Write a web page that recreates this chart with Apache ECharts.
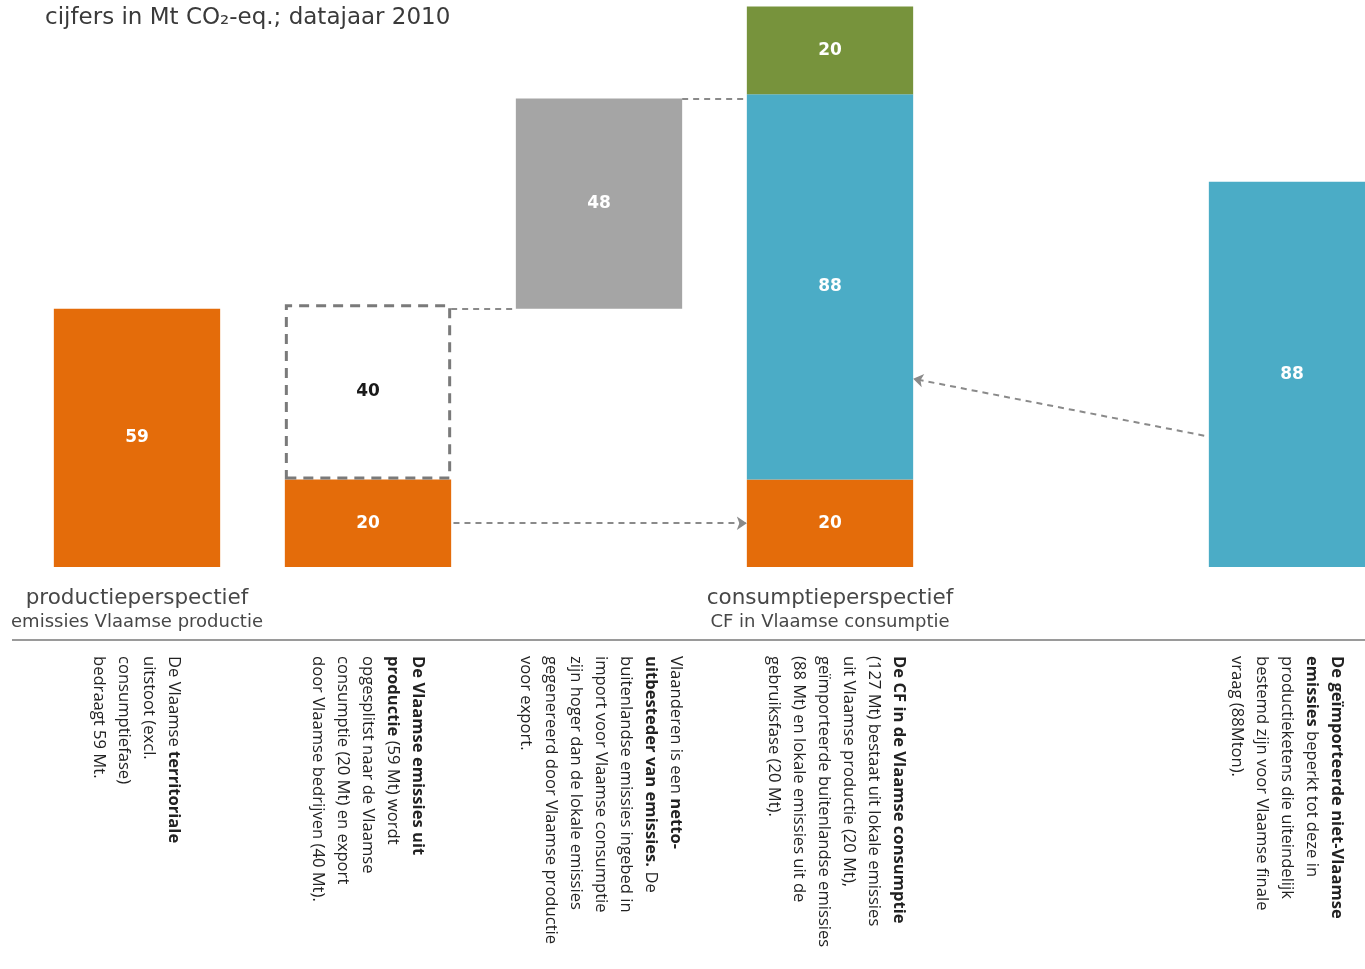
<!DOCTYPE html>
<html><head><meta charset="utf-8">
<script src="https://cdn.jsdelivr.net/npm/echarts@6/dist/echarts.min.js"></script>
<style>html,body{margin:0;padding:0;background:#fff}#c{width:1365px;height:969px}</style>
</head><body><div id="c"></div>
<script>
// ---- data ----
const categories = ['productie', 'export', 'uitbesteding', 'consumptie', 'leeg', 'import'];
const categoryTitles = ['productieperspectief', '', '', 'consumptieperspectief', '', ''];
const categorySubtitles = ['emissies Vlaamse productie', '', '', 'CF in Vlaamse consumptie', '', ''];
const offsetBase        = [null, null, 59, null, null, null];
const localProduction   = [59, 20, null, 20, null, null];
const exportEmissions   = [null, 40, null, null, null, null];
const netOutsourcing    = [null, null, 48, null, null, null];
const importedEmissions = [null, null, null, 88, null, 88];
const usePhase          = [null, null, null, 20, null, null];
const chartSubtitle = 'cijfers in Mt CO\u2082-eq.; datajaar 2010';
const description1 = ['De Vlaamse {b|territoriale}', 'uitstoot (excl.', 'consumptiefase)', 'bedraagt 59 Mt.'];
const description2 = ['{b|De Vlaamse emissies uit}', '{b|productie} (59 Mt) wordt', 'opgesplitst naar de Vlaamse', 'consumptie (20 Mt) en export', 'door Vlaamse bedrijven (40 Mt).'];
const description3 = ['Vlaanderen is een {b|netto-}', '{b|uitbesteder van emissies.} De', 'buitenlandse emissies ingebed in', 'import voor Vlaamse consumptie', 'zijn hoger dan de lokale emissies', 'gegenereerd door Vlaamse productie', 'voor export.'];
const description4 = ['{b|De CF in de Vlaamse consumptie}', '(127 Mt) bestaat uit lokale emissies', 'uit Vlaamse productie (20 Mt),', 'geïmporteerde buitenlandse emissies', '(88 Mt) en lokale emissies uit de', 'gebruiksfase (20 Mt).'];
const description5 = ['{b|De geïmporteerde niet-Vlaamse}', '{b|emissies} beperkt tot deze in', 'productieketens die uiteindelijk', 'bestemd zijn voor Vlaamse finale', 'vraag (88Mton).'];
// arrow from the import bar towards the consumption bar (annotation heights)
const importArrowLevels = [30, 43];

// ---- build ----
const HALF = 0.36; // half bar width in category units (barWidth 72%)
function edge(i, side) { return i + (side === 'left' ? -HALF : HALF); }
const outsourceTop = offsetBase[2] + netOutsourcing[2];
const plainConnectors = [
  { coords: [[edge(1, 'right'), localProduction[0]], [edge(2, 'left'), offsetBase[2]]] },
  { coords: [[edge(2, 'right'), outsourceTop], [edge(3, 'left'), outsourceTop]] }
];
const arrowConnectors = [
  { coords: [[edge(1, 'right') + 0.01, localProduction[1] / 2], [edge(3, 'left'), localProduction[3] / 2]] },
  { coords: [[edge(5, 'left') - 0.02, importArrowLevels[0]], [edge(3, 'right'), importArrowLevels[1]]] }
];

const labelStyle = { show: true, position: 'inside', formatter: '{c}', color: '#fff', fontWeight: 'bold', fontSize: 17, fontFamily: 'DejaVu Sans' };
function bar(name, data, color, extra) {
  return Object.assign({
    name, type: 'bar', stack: 'w', barWidth: '72%', data,
    itemStyle: { color }, label: labelStyle, silent: true
  }, extra || {});
}

const descriptions = [description1, description2, description3, description4, description5];
const descAnchors = [186, 430, 688, 911, 1349];
const descTexts = descriptions.map((lines, k) => ({
  type: 'text', x: descAnchors[k], y: 656, rotation: -Math.PI / 2,
  style: {
    text: lines.join('\n'),
    font: '16.6px "Open Sans"', fill: '#222', lineHeight: 25,
    textAlign: 'left', textVerticalAlign: 'top',
    rich: { b: { fontWeight: 'bold', fontFamily: 'Open Sans', fontSize: 16.6, lineHeight: 25, fill: '#222' } }
  }
}));

const option = {
  animation: false,
  backgroundColor: '#fff',
  grid: { left: 21.5, right: -42.5, top: 0, bottom: 402, containLabel: false, outerBoundsMode: 'none' },
  xAxis: [
    { type: 'category', data: categories, boundaryGap: true,
      axisLine: { show: false }, axisTick: { show: false }, splitLine: { show: false },
      axisLabel: { interval: 0, margin: 19,
        formatter: (v, i) => categoryTitles[i] ? '{t|' + categoryTitles[i] + '}\n{s|' + categorySubtitles[i] + '}' : '',
        rich: {
          t: { fontSize: 21.5, fontFamily: 'DejaVu Sans', color: '#474747', lineHeight: 25, align: 'center' },
          s: { fontSize: 18, fontFamily: 'DejaVu Sans', color: '#474747', lineHeight: 22, align: 'center' }
        } } },
    { type: 'value', min: -0.5, max: 5.5, show: false }
  ],
  yAxis: { type: 'value', min: 0, max: 129.5, show: false },
  series: [
    bar('basis', offsetBase, 'transparent', { label: { show: false } }),
    bar('lokale productie', localProduction, '#E46C0A'),
    bar('export', exportEmissions, 'rgba(255,255,255,0)', {
      itemStyle: { color: 'rgba(255,255,255,0)', borderColor: '#7a7a7a', borderWidth: 3, borderType: [10, 7] },
      label: Object.assign({}, labelStyle, { color: '#1a1a1a' })
    }),
    bar('netto uitbesteding', netOutsourcing, '#A5A5A5'),
    bar('geïmporteerde emissies', importedEmissions, '#4BACC6'),
    bar('gebruiksfase', usePhase, '#77933C'),
    { type: 'lines', coordinateSystem: 'cartesian2d', xAxisIndex: 1, yAxisIndex: 0, polyline: false, silent: true, z: 5,
      symbol: ['none', 'none'], lineStyle: { color: '#8a8a8a', width: 2, type: [6, 5], opacity: 1 }, data: plainConnectors },
    { type: 'lines', coordinateSystem: 'cartesian2d', xAxisIndex: 1, yAxisIndex: 0, polyline: false, silent: true, z: 5,
      symbol: ['none', 'arrow'], symbolSize: 10, lineStyle: { color: '#8a8a8a', width: 2, type: [6, 5], opacity: 1 }, data: arrowConnectors }
  ],
  graphic: [
    { type: 'text', x: 45, y: 18, style: { text: chartSubtitle, font: '23px "DejaVu Sans"', fill: '#3a3a3a', textVerticalAlign: 'middle' } },
    { type: 'line', shape: { x1: 12, y1: 640, x2: 1365, y2: 640 }, style: { stroke: '#9a9a9a', lineWidth: 2 } }
  ].concat(descTexts)
};
const chart = echarts.init(document.getElementById('c'));
chart.setOption(option);
</script>
</body></html>
